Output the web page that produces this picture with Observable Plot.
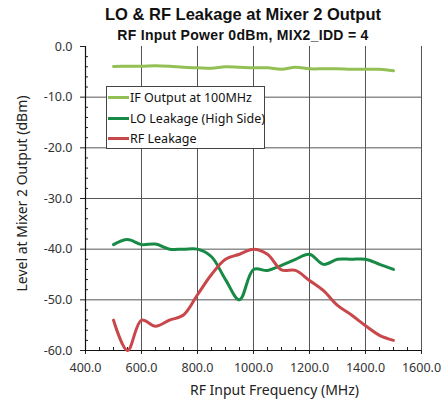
<!DOCTYPE html>
<html><head><meta charset="utf-8">
<script src="https://cdn.jsdelivr.net/npm/d3@7"></script>
<script src="https://cdn.jsdelivr.net/npm/@observablehq/plot@0.6"></script>
<style>
body{margin:0;background:#fff;}
#wrap{position:relative;width:441px;height:401px;overflow:hidden;background:#fff;}
.t1{position:absolute;left:45px;width:396px;top:4px;text-align:center;font:bold 16.5px "Liberation Sans",Arial,sans-serif;color:#111;line-height:20px;}
.t2{position:absolute;left:45px;width:396px;top:26px;text-align:center;font:bold 14px "Liberation Sans",Arial,sans-serif;letter-spacing:0.3px;color:#111;line-height:18px;}
#legend{position:absolute;left:106px;top:86px;width:157px;height:61px;border:1px solid #444;background:#fff;font:12.5px "Noto Sans",sans-serif;color:#111;}
.row{position:absolute;left:1px;height:18px;line-height:18px;white-space:nowrap;}
.sw{display:inline-block;width:21px;height:3px;vertical-align:middle;margin-right:1px;position:relative;top:-1px;}
</style></head>
<body>
<div id="wrap">
<div class="t1">LO &amp; RF Leakage at Mixer 2 Output</div>
<div class="t2">RF Input Power 0dBm, MIX2_IDD = 4</div>
</div>
<script>
const freqs = [500,550,600,650,700,750,800,850,900,950,1000,1050,1100,1150,1200,1250,1300,1350,1400,1450,1500];
const ifOut = [-3.95,-3.9,-3.9,-3.8,-3.9,-4.1,-4.2,-4.3,-4.0,-4.1,-4.2,-4.2,-4.5,-4.1,-4.4,-4.4,-4.4,-4.5,-4.5,-4.5,-4.8];
const loLeak = [-39.1,-38.1,-39.1,-39.0,-40.0,-40.0,-40.0,-41.5,-46.0,-50.0,-44.0,-44.2,-43.2,-42.0,-41.0,-43.0,-42.0,-42.0,-42.0,-43.0,-44.0];
const rfLeak = [-54.0,-60.0,-54.0,-55.2,-54.0,-53.0,-49.0,-45.0,-42.0,-41.0,-40.0,-41.0,-44.1,-44.2,-46.2,-48.2,-51.1,-53.0,-55.1,-57.0,-58.0];
const seriesNames = ["IF Output at 100MHz","LO Leakage (High Side)","RF Leakage"];
const seriesColors = ["#93c054","#178a45","#c8474a"];
const xTicks = [400,600,800,1000,1200,1400,1600];
const yTicks = [0,-10,-20,-30,-40,-50,-60];
const xMinor = [450,500,550,650,700,750,850,900,950,1050,1100,1150,1250,1300,1350,1450,1500,1550];
const yMinor = [-2,-4,-6,-8,-12,-14,-16,-18,-22,-24,-26,-28,-32,-34,-36,-38,-42,-44,-46,-48,-52,-54,-56,-58];
const xLabel = "RF Input Frequency (MHz)";
const yLabel = "Level at Mixer 2 Output (dBm)";

const series = [ifOut, loLeak, rfLeak];
const rows = [];
series.forEach((vals, s) => freqs.forEach((f, i) => rows.push({f, v: vals[i], s: seriesNames[s]})));
const fmt = d => d.toFixed(1);

const plot = Plot.plot({
  width: 441, height: 401,
  marginLeft: 85, marginRight: 20, marginTop: 46, marginBottom: 51,
  x: {domain: [xTicks[0], xTicks[xTicks.length-1]]},
  y: {domain: [yTicks[yTicks.length-1], yTicks[0]]},
  color: {domain: seriesNames, range: seriesColors},
  style: {fontFamily: "'Noto Sans', sans-serif", fontSize: "12.5px", color: "#222", background: "transparent"},
  marks: [
    Plot.ruleY(yTicks.slice(1, -1), {stroke: "#555", strokeWidth: 1}),
    Plot.ruleX(xTicks.slice(1), {stroke: "#555", strokeWidth: 1}),
    Plot.ruleX(xMinor, {stroke: "#222", insetTop: 301}),
    Plot.ruleY(yMinor, {stroke: "#222", insetRight: 333}),
    Plot.axisX(xTicks, {tickSize: 4, tickPadding: 9, tickFormat: fmt, label: null, stroke: "#222", fill: "#333"}),
    Plot.axisY(yTicks, {tickSize: 5, tickPadding: 8, tickFormat: fmt, label: null, stroke: "#222", fill: "#333"}),
    Plot.ruleX([xTicks[0]], {stroke: "#111", strokeWidth: 1.2}),
    Plot.ruleY([yTicks[yTicks.length-1]], {stroke: "#111", strokeWidth: 1.2}),
    Plot.line(rows, {x: "f", y: "v", z: "s", stroke: "s", strokeWidth: 3, curve: "catmull-rom"}),
    Plot.text([xLabel], {frameAnchor: "bottom", dy: 40, dx: 21, fontSize: 14, fill: "#222", lineAnchor: "middle"}),
    Plot.text([yLabel], {frameAnchor: "left", dx: -63, dy: -5, rotate: -90, fontSize: 14, fill: "#222", textAnchor: "middle"})
  ]
});
const wrap = document.getElementById("wrap");
plot.style.position = "absolute";
plot.style.left = "0px";
plot.style.top = "0px";
wrap.appendChild(plot);

const legend = document.createElement("div");
legend.id = "legend";
seriesNames.forEach((n, i) => {
  const r = document.createElement("div");
  r.className = "row";
  r.style.top = (2 + i * 20.5) + "px";
  const sw = document.createElement("span");
  sw.className = "sw";
  sw.style.background = seriesColors[i];
  r.appendChild(sw);
  r.appendChild(document.createTextNode(n));
  legend.appendChild(r);
});
wrap.appendChild(legend);
</script>
</body></html>
